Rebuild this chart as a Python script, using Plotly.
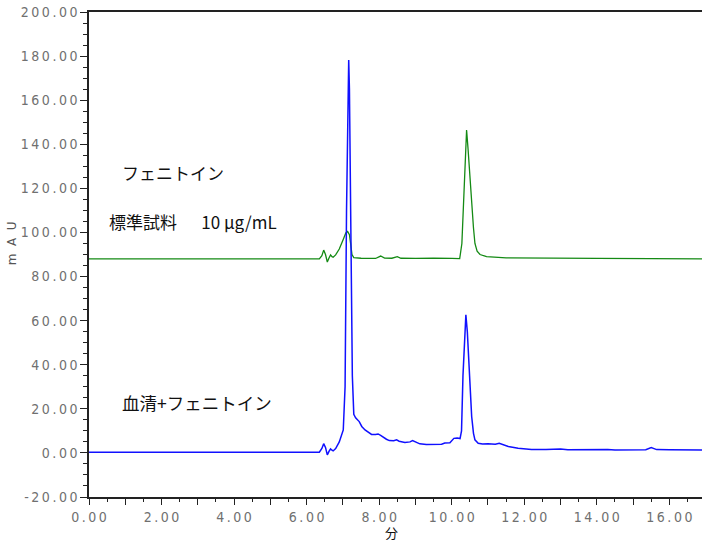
import plotly.graph_objects as go

# Standard (green) trace: time [min], absorbance [mAU]
std_time = [0.0, 6.35, 6.42, 6.47, 6.52, 6.57, 6.62, 6.66, 6.70, 6.73, 6.80, 6.90, 7.00, 7.08,
            7.13, 7.18, 7.22, 7.25, 7.30, 7.50, 7.90, 8.04, 8.15, 8.35, 8.50, 8.60, 9.00, 9.50,
            10.00, 10.22, 10.28, 10.33, 10.38, 10.41, 10.45, 10.50, 10.55, 10.60, 10.64, 10.70,
            10.78, 10.96, 11.5, 12.5, 14.0, 15.5, 16.9]
std_mau = [88.0, 88.0, 89.5, 92.0, 90.0, 86.6, 88.5, 89.8, 89.0, 88.8, 89.8, 92.5, 96.5, 99.8,
           100.4, 99.0, 94.0, 90.0, 88.6, 88.3, 88.2, 89.3, 88.4, 88.3, 89.0, 88.3, 88.2, 88.4,
           88.2, 88.1, 95.0, 115.0, 140.0, 146.5, 138.0, 125.0, 114.0, 102.0, 95.0, 91.5,
           90.0, 89.0, 88.5, 88.3, 88.2, 88.1, 88.0]

# Serum + phenytoin (blue) trace
ser_time = [0.0, 6.35, 6.42, 6.47, 6.52, 6.57, 6.62, 6.66, 6.70, 6.73, 6.80, 6.90, 7.01, 7.06,
            7.10, 7.14, 7.16, 7.18, 7.22, 7.26, 7.30, 7.35, 7.45, 7.52, 7.61, 7.70, 7.79, 7.90,
            7.97, 8.04, 8.11, 8.20, 8.28, 8.40, 8.48, 8.55, 8.71, 8.85, 8.92, 9.00, 9.12, 9.30,
            9.49, 9.72, 9.81, 9.95, 10.06, 10.15, 10.23, 10.27, 10.31, 10.36, 10.39, 10.43,
            10.50, 10.55, 10.60, 10.64, 10.73, 10.85, 11.00, 11.20, 11.31, 11.42, 11.56, 11.83,
            12.2, 12.6, 13.0, 13.2, 13.6, 14.0, 14.3, 14.5, 15.0, 15.35, 15.5, 15.65, 16.0, 16.9]
ser_mau = [0.3, 0.3, 2.0, 4.2, 2.5, -0.9, 0.8, 1.8, 1.2, 0.9, 2.0, 5.0, 10.4, 30.0,
           110.0, 172.0, 178.2, 165.0, 90.0, 35.0, 17.5, 15.9, 14.2, 12.0, 10.4, 9.3, 8.4, 8.4,
           8.6, 8.0, 7.1, 6.2, 5.6, 5.5, 5.9, 5.3, 4.7, 5.0, 5.6, 5.0, 4.1, 3.8,
           3.8, 3.9, 4.5, 4.6, 6.6, 6.8, 6.5, 10.0, 35.0, 58.0, 62.6, 55.0,
           30.0, 16.5, 8.9, 5.9, 4.4, 4.0, 4.1, 3.9, 4.4, 3.6, 2.9, 2.1,
           1.6, 1.5, 1.8, 1.4, 1.5, 1.3, 1.6, 1.3, 1.2, 1.4, 2.4, 1.5, 1.4, 1.3]

x_ticks = list(range(0, 17))
y_ticks = list(range(-20, 201, 20))

TS = "\u2009"


def spaced(s):
    return TS.join(list(s))


x_text = [spaced(f"{v:.2f}") if v % 2 == 0 else "" for v in x_ticks]
y_text = [spaced(f"{v:.2f}") for v in y_ticks]

fig = go.Figure()
fig.add_trace(go.Scatter(x=std_time, y=std_mau, mode="lines",
                         line=dict(color="#148a14", width=1.3), showlegend=False))
fig.add_trace(go.Scatter(x=ser_time, y=ser_mau, mode="lines",
                         line=dict(color="#1010ff", width=1.5), showlegend=False))

tick_font = dict(family="DejaVu Sans Condensed, DejaVu Sans", size=14, color="#707070")

fig.update_layout(
    width=702, height=543,
    margin=dict(l=89, r=0, t=12, b=46, autoexpand=False),
    paper_bgcolor="white", plot_bgcolor="white",
    xaxis=dict(range=[0, 16.9], tickmode="array", tickvals=x_ticks, ticktext=x_text,
               ticks="outside", ticklen=6, tickcolor="#222", tickwidth=1,
               minor=dict(dtick=0.5, ticks="outside", ticklen=3, tickcolor="#222"),
               showline=True, linecolor="#222", linewidth=1.5, mirror=True,
               showgrid=False, zeroline=False, tickfont=tick_font, automargin=False),
    yaxis=dict(range=[-20, 200], tickmode="array", tickvals=y_ticks, ticktext=y_text,
               ticks="outside", ticklen=7, tickcolor="#222", tickwidth=1,
               minor=dict(dtick=5, ticks="outside", ticklen=4, tickcolor="#222"),
               showline=True, linecolor="#222", linewidth=1.5,
               showgrid=False, zeroline=False, tickfont=tick_font, automargin=False),
)

# axis titles
fig.add_annotation(x=-0.1256, y=0.523, xref="paper", yref="paper", text="m  A  U",
                   showarrow=False, textangle=-90, xanchor="center", yanchor="middle",
                   font=dict(family="DejaVu Sans", size=12, color="#555"))
fig.add_annotation(x=8.35, y=-0.074, xref="x", yref="paper", text="分",
                   showarrow=False, xanchor="center", yanchor="middle",
                   font=dict(family="Noto Sans CJK JP", size=13, color="#111"))

ann_font = dict(family="Noto Sans CJK JP", size=17, color="#111")
fig.add_annotation(x=0.85, y=127.4, xref="x", yref="y", text="フェニトイン",
                   showarrow=False, xanchor="left", yanchor="middle", font=ann_font)
fig.add_annotation(x=0.49, y=104.8, xref="x", yref="y", text="標準試料\u2003\u2009 10 μg/mL",
                   showarrow=False, xanchor="left", yanchor="middle", font=ann_font)
fig.add_annotation(x=0.85, y=22.7, xref="x", yref="y", text="血清+フェニトイン",
                   showarrow=False, xanchor="left", yanchor="middle",
                   font=dict(family="Noto Sans CJK JP", size=17.5, color="#111"))

fig.write_html("out.html", config={"displayModeBar": False},
               post_script="document.body.style.margin='0';document.body.style.overflow='hidden';")
